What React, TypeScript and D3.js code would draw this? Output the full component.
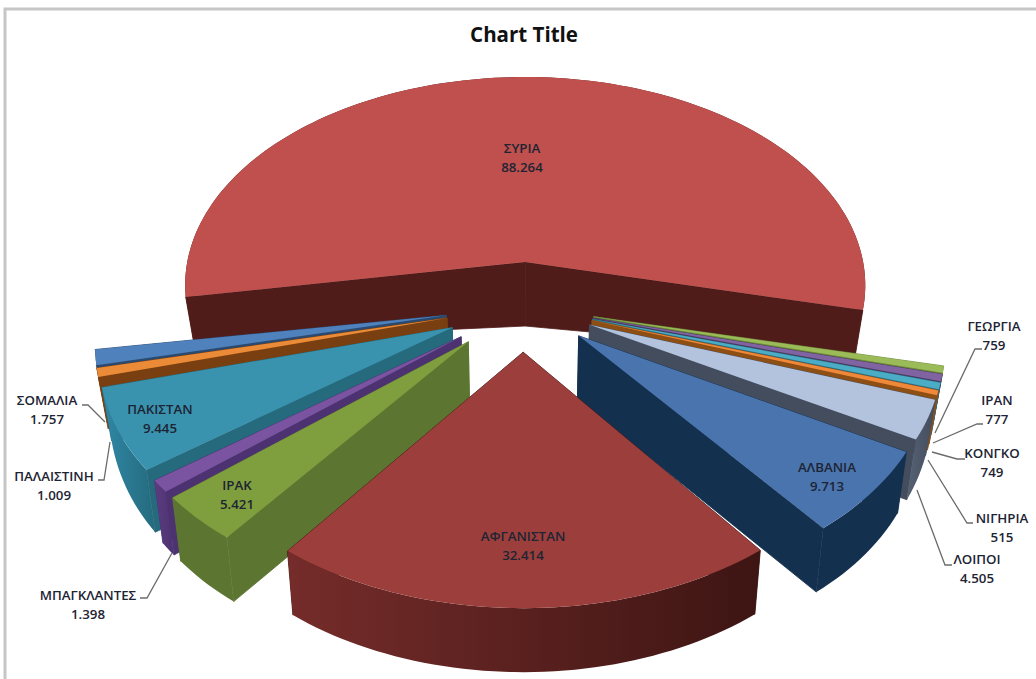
import * as d3 from "d3";

const categories = ["ΣΥΡΙΑ", "ΓΕΩΡΓΙΑ", "ΙΡΑΝ", "ΚΟΝΓΚΟ", "ΝΙΓΗΡΙΑ", "ΛΟΙΠΟΙ", "ΑΛΒΑΝΙΑ", "ΑΦΓΑΝΙΣΤΑΝ", "ΙΡΑΚ", "ΜΠΑΓΚΛΑΝΤΕΣ", "ΠΑΚΙΣΤΑΝ", "ΠΑΛΑΙΣΤΙΝΗ", "ΣΟΜΑΛΙΑ"];
const values = [88264, 759, 777, 749, 515, 4505, 9713, 32414, 5421, 1398, 9445, 1009, 1757];
const valueLabels = ["88.264", "759", "777", "749", "515", "4.505", "9.713", "32.414", "5.421", "1.398", "9.445", "1.009", "1.757"];

const topColors = ["#c0504d", "#9bbb59", "#8064a2", "#4bacc6", "#f0883a", "#b3c3de", "#4a74ad", "#9c3f3c", "#7f9e3d", "#7a54a0", "#3a93ae", "#eb8a37", "#4f81bd"];
const wallLeft = ["#4f1c1a", "#6d8a38", "#4a3a60", "#2b6f82", "#8e4f14", "#566173", "#14304f", "#752c2a", "#5c7632", "#5c3d80", "#2f88a6", "#7a3f10", "#2a4a70"];
const wallRight = ["#4f1c1a", "#6d8a38", "#4a3a60", "#2b6f82", "#8e4f14", "#434d5e", "#14304f", "#3d1513", "#5c7632", "#4c3270", "#256a7d", "#7a3f10", "#2a4a70"];
const explode = [0.209, 0.209, 0.209, 0.209, 0.209, 0.209, 0.209, 0.209, 0.225, 0.225, 0.225, 0.225, 0.225];
// small rotation per wedge, degrees, the original 3d view is not a clean perspective
const turn = [0.4, 0, 0, 0, 0, 0, 0, 0.8, 1.1, 1.1, 1.1, 1.1, 1.1];

// label anchors: name, x, y
const labelSpots: [string, number, number][] = [
  ["ΣΥΡΙΑ", 522, 148], ["ΑΦΓΑΝΙΣΤΑΝ", 523, 536], ["ΑΛΒΑΝΙΑ", 827, 467], ["ΠΑΚΙΣΤΑΝ", 160, 409], ["ΙΡΑΚ", 237, 485],
  ["ΣΟΜΑΛΙΑ", 47, 400], ["ΠΑΛΑΙΣΤΙΝΗ", 54, 476], ["ΜΠΑΓΚΛΑΝΤΕΣ", 88, 595], ["ΓΕΩΡΓΙΑ", 994, 326], ["ΙΡΑΝ", 997, 400],
  ["ΚΟΝΓΚΟ", 992, 453], ["ΝΙΓΗΡΙΑ", 1002, 518], ["ΛΟΙΠΟΙ", 977, 559],
];

const leaders: [number, number][][] = [
  [[82, 405], [88, 405], [105, 422]],
  [[98, 480], [104, 480], [110, 442]],
  [[140, 598], [147, 598], [172, 553]],
  [[982, 349], [975, 349], [935, 433]],
  [[983, 424], [977, 424], [933, 443]],
  [[965, 459], [957, 459], [932, 452]],
  [[973, 523], [967, 523], [928, 460]],
  [[952, 565], [945, 565], [917, 490]],
];

const W = 1036, H = 679;
const cx = 523, cy = 306;
const scaleX = 346, scaleY = 215.5, persp = 0.114;
const rad = Math.PI / 180;

type Pt = [number, number];

// pie plane to screen, v grows toward the viewer
const project = (u: number, v: number): Pt => {
  const w = 1 / (1 - persp * v);
  return [cx + scaleX * u * w, cy + scaleY * v * w];
};

const drop = (u: number, v: number): Pt => {
  const [x, y] = project(u, v);
  const f = Math.max(0, 1 - v);
  return [cx + (x - cx) * 0.977, y + 64 - 19 * u * u * f * f];
};

const line = d3.line<Pt>().curve(d3.curveLinear);

const pie = d3.pie<number>().sort(null).startAngle(-100 * rad).endAngle(260 * rad);

const slices = pie(values).map((d, i) => {
  const start = d.startAngle + turn[i] * rad;
  const end = d.endAngle + turn[i] * rad;
  const mid = (start + end) / 2;
  const ou = Math.sin(mid) * explode[i];
  const ov = -Math.cos(mid) * explode[i];
  const steps = Math.max(2, Math.ceil((end - start) / (1.5 * rad)));
  const rimPts: Pt[] = d3.range(steps + 1).map((s) => {
    const a = start + ((end - start) * s) / steps;
    return [ou + Math.sin(a), ov - Math.cos(a)];
  });
  const top = (p: Pt) => project(p[0], p[1]);
  const bot = (p: Pt) => drop(p[0], p[1]);
  const apex: Pt = [ou, ov];
  const first = rimPts[0];
  const last = rimPts[rimPts.length - 1];
  return {
    i,
    depth: -Math.cos(mid),
    topPath: line([top(apex), ...rimPts.map(top)]) + "Z",
    wallA: line([top(apex), top(first), bot(first), bot(apex)]) + "Z",
    wallB: line([top(apex), top(last), bot(last), bot(apex)]) + "Z",
    rim: line([...rimPts.map(top), ...rimPts.slice().reverse().map(bot)]) + "Z",
  };
});

const ordered = d3.sort(slices, (s) => s.depth);

const labelFont = "'Open Sans', sans-serif";

const App = () => (
  <svg width={W} height={H} viewBox={`0 0 ${W} ${H}`} style={{ position: "fixed", left: 0, top: 0, background: "#fff" }}>
    <defs>
      {slices.map((s) => (
        <linearGradient key={s.i} id={`wall${s.i}`} x1="0" x2="1" y1="0" y2="0">
          <stop offset="0" stopColor={wallLeft[s.i]} />
          <stop offset="1" stopColor={wallRight[s.i]} />
        </linearGradient>
      ))}
    </defs>
    <path d={`M5,${H}V9H${W}`} fill="none" stroke="#c6c6c6" strokeWidth={3} />
    <text x={524} y={42} textAnchor="middle" fontFamily={labelFont} fontWeight={700} fontSize={20.5} fill="#111">
      Chart Title
    </text>
    {ordered.map((s) => (
      <g key={s.i}>
        <path d={s.wallA} fill={wallRight[s.i]} stroke={wallRight[s.i]} strokeWidth={0.8} />
        <path d={s.wallB} fill={wallRight[s.i]} stroke={wallRight[s.i]} strokeWidth={0.8} />
        <path d={s.rim} fill={`url(#wall${s.i})`} />
        <path d={s.topPath} fill={topColors[s.i]} />
      </g>
    ))}
    {leaders.map((pts, i) => (
      <path key={i} d={line(pts as Pt[]) ?? ""} fill="none" stroke="#6b6b6b" strokeWidth={1.3} />
    ))}
    {labelSpots.map(([name, x, y]) => {
      const idx = categories.indexOf(name);
      return (
        <text key={name} textAnchor="middle" fontFamily={labelFont} fontWeight={600} fontSize={13.3} fill="#1d2433">
          <tspan x={x} y={y + 5}>{name}</tspan>
          <tspan x={x} y={y + 24}>{valueLabels[idx]}</tspan>
        </text>
      );
    })}
  </svg>
);

export default App;
